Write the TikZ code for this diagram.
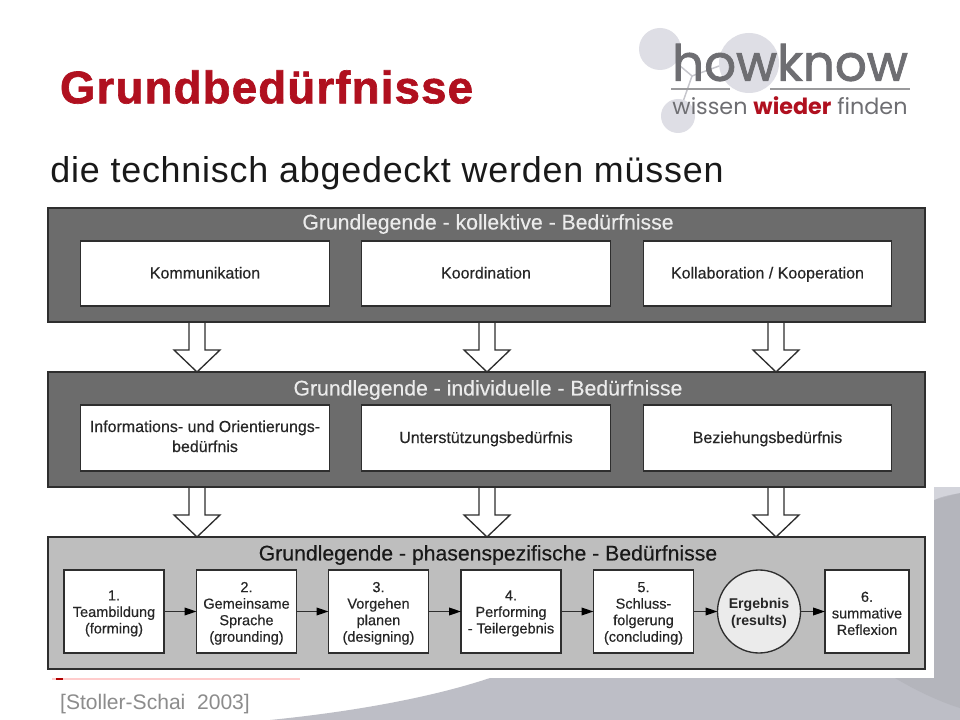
\documentclass[tikz,border=0pt]{standalone}
\usepackage{fontspec}
\setmainfont{Liberation Sans}
\newfontfamily\logofont[FakeBold=1.6]{Poppins}
\newfontfamily\semifont[FakeBold=0.35]{Liberation Sans}
\newfontfamily\titlefont[FakeBold=1.4,LetterSpace=2.6]{Liberation Sans Bold}
\newfontfamily\subfont[LetterSpace=2.2]{Liberation Sans}
\usetikzlibrary{arrows.meta}
\definecolor{titlered}{HTML}{B0101F}
\definecolor{darkpanel}{HTML}{6C6C6C}
\definecolor{lightpanel}{HTML}{BEBEBE}
\definecolor{edgecol}{HTML}{2E2E2E}
\definecolor{bggray}{HTML}{BDBEC6}
\definecolor{bglight}{HTML}{D3D4DB}
\definecolor{bgdark}{HTML}{B4B5BC}
\definecolor{logogray}{HTML}{6E6E72}
\definecolor{bubble}{HTML}{DEDEE5}
\newcommand{\pushd}{\rule{0pt}{10.4pt}}
\newcommand{\lstrut}{\rule[-3pt]{0pt}{13.5pt}}
\tikzset{
  x=0.75pt,y=-0.75pt,
  panel/.style={draw=edgecol,line width=1pt,anchor=north west,inner sep=0,outer sep=0},
  paneltitle/.style={font=\semifont\fontsize{15.9}{18}\selectfont,anchor=center,inner sep=0},
  whitebox/.style={draw=edgecol,fill=white,line width=1pt,anchor=center,inner sep=0,outer sep=0,align=center,text=black!85,
    font=\semifont\fontsize{12}{15}\selectfont},
  hollow/.style={draw=edgecol,fill=white,line width=1pt,line join=miter},
  flow/.style={draw=edgecol,line width=1pt,-{Triangle[length=9pt,width=5.8pt,black]}},
  bub/.style={circle,fill=bubble,draw=none,inner sep=0,outer sep=0},
}
\newcommand{\panelbox}[6]{\node[panel,fill=#6,minimum width=#3*0.75pt,minimum height=#4*0.75pt] (#5) at (#1,#2) {};}
\newcommand{\hollowarrow}[3]{\draw[hollow] (#1-8,#2) -- (#1-8,#3-22) -- (#1-23,#3-22) -- (#1,#3) -- (#1+23,#3-22) -- (#1+8,#3-22) -- (#1+8,#2);}
\begin{document}
\begin{tikzpicture}
\useasboundingbox (0,0) rectangle (960,720);
\fill[white] (0,0) rectangle (960,720);
% background
\fill[bggray] (270,720) .. controls (350,712) and (430,698) .. (490,678) -- (934,678) -- (934,487) -- (960,487) -- (960,720) -- cycle;
\fill[bgdark] (895,678) .. controls (915,690) and (940,702) .. (960,708) -- (960,493) -- (934,500) -- (934,678) -- cycle;
\fill[bglight] (934,487) -- (960,487) -- (960,493) .. controls (948,495) and (940,497) .. (934,500) -- cycle;
% ghost marks
\fill[red!20] (52,678) rectangle (300,679.5);
\fill[red!70!black] (56,678) rectangle (63,680);
% logo
\draw[bubble!75!gray,line width=1.1pt] (660,49) -- (692,76) -- (678,116);
\draw[bubble!75!gray,line width=1.1pt] (692,76) -- (730,62);
\node[bub,minimum size=60*0.75pt] (b2) at (749,63) {};
\node[bub,minimum size=42*0.75pt] (b1) at (660,49) {};
\node[bub,minimum size=34*0.75pt] (b3) at (678,116) {};
\draw[logogray!70,line width=0.8pt] (671,89) -- (730,89) (770,89) -- (910,89);
\node[anchor=center,inner sep=0,text=logogray] (logo1) at (790,62.5) {\logofont\fontsize{37.5}{40}\selectfont howknow};
\node[anchor=center,inner sep=0,text=logogray] (logo2) at (790,106) {\fontspec{Poppins}\fontsize{16.7}{20}\selectfont wissen \textcolor{titlered}{\textbf{wieder}} finden};
% headings
\node[anchor=center,inner sep=0,text=titlered] (title) at (266.5,87) {\titlefont\fontsize{34.2}{37}\selectfont Grundbedürfnisse};
\node[anchor=center,inner sep=0,text=black!90] (sub) at (387,173) {\subfont\fontsize{26.9}{30}\selectfont die technisch abgedeckt werden müssen};
% hollow arrows (behind the panels)
\foreach \cx in {197,487,776}{
  \hollowarrow{\cx}{322}{372}
  \hollowarrow{\cx}{487}{537}
}
% panels
\panelbox{48}{208}{877}{114}{p1}{darkpanel}
\panelbox{48}{372}{877}{115}{p2}{darkpanel}
\panelbox{48}{537}{877}{132}{p3}{lightpanel}
\node[paneltitle,text=white!92!black] (t1) at (488,224) {Grundlegende - kollektive - Bedürfnisse};
\node[paneltitle,text=white!92!black] (t2) at (488,390) {Grundlegende - individuelle - Bedürfnisse};
\node[paneltitle,text=black!90] (t3) at (488,555) {Grundlegende - phasenspezifische - Bedürfnisse};
% row 1
\node[whitebox,minimum width=248.5*0.75pt,minimum height=65*0.75pt] (a1) at (205,273.5) {\lstrut Kommunikation};
\node[whitebox,minimum width=248.5*0.75pt,minimum height=65*0.75pt] (a2) at (486,273.5) {\lstrut Koordination};
\node[whitebox,minimum width=248.5*0.75pt,minimum height=65*0.75pt] (a3) at (767.5,273.5) {\lstrut Kollaboration / Kooperation};
% row 2
\node[whitebox,minimum width=248.5*0.75pt,minimum height=66*0.75pt] (c1) at (205,438) {\strut Informations- und Orientierungs-\\\strut bedürfnis};
\node[whitebox,minimum width=248.5*0.75pt,minimum height=66*0.75pt] (c2) at (486,438) {\lstrut Unterstützungsbedürfnis};
\node[whitebox,minimum width=248.5*0.75pt,minimum height=66*0.75pt] (c3) at (767.5,438) {\lstrut Beziehungsbedürfnis};
% row 3
\tikzset{phase/.style={whitebox,minimum height=83*0.75pt,font=\semifont\fontsize{10.9}{12.4}\selectfont}}
\node[phase,minimum width=100*0.75pt] (d1) at (114,611.5) {\pushd 1.\\Teambildung\\(forming)};
\node[phase,minimum width=100*0.75pt] (d2) at (246.5,611.5) {\pushd 2.\\Gemeinsame\\Sprache\\(grounding)};
\node[phase,minimum width=100*0.75pt] (d3) at (378.5,611.5) {\pushd 3.\\Vorgehen\\planen\\(designing)};
\node[phase,minimum width=100*0.75pt] (d4) at (511,611.5) {\pushd 4.\\Performing\\- Teilergebnis};
\node[phase,minimum width=100*0.75pt] (d5) at (643.5,611.5) {\pushd 5.\\Schluss-\\folgerung\\(concluding)};
\node[whitebox,circle,fill=black!8,minimum size=83*0.75pt,font=\bfseries\fontsize{10.6}{12.4}\selectfont] (e) at (759,611.5) {\pushd Ergebnis\\(results)};
\node[phase,minimum width=84*0.75pt] (d6) at (867,611.5) {\pushd 6.\\summative\\Reflexion};
\draw[flow] (d1) -- (d2);
\draw[flow] (d2) -- (d3);
\draw[flow] (d3) -- (d4);
\draw[flow] (d4) -- (d5);
\draw[flow] (d5) -- (e);
\draw[flow] (e) -- (d6);
% citation
\node[anchor=center,inner sep=0,text=black!45] (cite) at (155,704) {\fontsize{15.8}{18}\selectfont [Stoller-Schai\ \ 2003]};
\end{tikzpicture}
\end{document}
